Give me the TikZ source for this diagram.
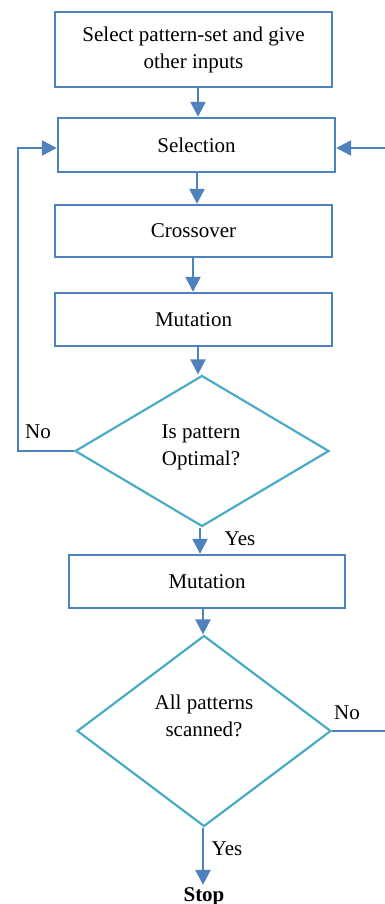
\documentclass[tikz,border=0pt]{standalone}
\usepackage{fontspec}
\setmainfont{Liberation Serif}
\usetikzlibrary{shapes.geometric,arrows.meta}
\definecolor{boxblue}{HTML}{4F81BD}
\definecolor{diateal}{HTML}{4BACC6}
\begin{document}
\begin{tikzpicture}[x=1pt,y=-1pt,
  font=\fontsize{21}{27}\selectfont,
  box/.style={draw=boxblue, line width=2.4pt, minimum width=277pt, minimum height=54pt, inner sep=0pt, align=center},
  dia/.style={diamond, draw=diateal, line width=2.2pt, minimum width=254pt, minimum height=151pt, inner sep=0pt},
  txt/.style={align=center, inner sep=0pt},
  lbl/.style={inner sep=0pt},
  arr/.style={draw=boxblue, line width=2.4pt, -{Triangle[length=15pt,width=15pt]}},
  ln/.style={draw=boxblue, line width=2.4pt}]
\useasboundingbox (0,0) rectangle (385,904);
\node[box, minimum height=75pt] (b1) at (193.5,49.5) {Select pattern-set and give\\other inputs};
\node[box] (b2) at (196.5,145) {Selection};
\node[box, minimum height=52pt] (b3) at (193.5,231) {Crossover};
\node[box, minimum height=53pt] (b4) at (193.5,319.5) {Mutation};
\node[dia] (d1) at (202,451) {};
\node[txt] (d1t) at (201,447) {Is pattern\\Optimal?};
\node[box, minimum width=276pt, minimum height=53pt] (b5) at (207,581.5) {Mutation};
\node[dia, minimum height=191pt] (d2) at (204,731) {};
\node[txt] (d2t) at (204,716) {All patterns\\scanned?};
\node[lbl, font=\fontsize{21}{27}\selectfont\bfseries, anchor=base, inner sep=2pt] (stop) at (204,901) {Stop};
\node[lbl] (no1) at (38,432) {No};
\node[lbl] (yes1) at (240,539) {Yes};
\node[lbl] (no2) at (347,713) {No};
\node[lbl] (yes2) at (227,849) {Yes};
\coordinate (c198) at (198,0);
\coordinate (c197) at (197,0);
\coordinate (c193) at (193,0);
\coordinate (c200) at (200,0);
\coordinate (c203) at (203,0);
\coordinate (L1) at (18,451);
\coordinate (L2) at (18,148);
\coordinate (R1) at (385,148);
\coordinate (R2) at (385,731);
\draw[arr] (b1.south -| c198) -- (b2.north -| c198);
\draw[arr] (b2.south -| c197) -- (b3.north -| c197);
\draw[arr] (b3.south -| c193) -- (b4.north -| c193);
\draw[arr] (b4.south -| c198) -- (d1.north -| c198);
\draw[arr] (d1.south -| c200) -- (b5.north -| c200);
\draw[arr] (b5.south -| c203) -- (d2.north -| c203);
\draw[arr] (d2.south -| c203) -- (stop.north -| c203);
\draw[arr] (d1.west) -- (L1) -- (L2) -- (b2.west |- L2);
\draw[arr] (R1) -- (b2.east |- R1);
\draw[ln] (d2.east) -- (R2);
\end{tikzpicture}
\end{document}
